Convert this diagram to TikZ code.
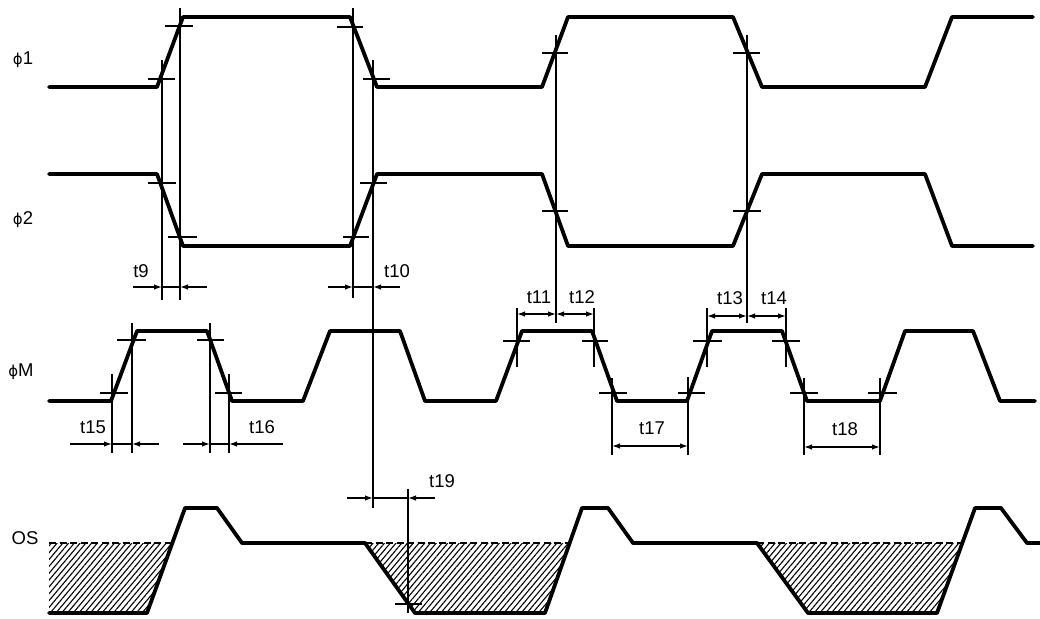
\documentclass[tikz,border=0pt]{standalone}
\usepackage{fontspec}
\setmainfont{Liberation Sans}
\newfontfamily\phifont{DejaVu Sans}
\usetikzlibrary{arrows.meta,patterns.meta}
\begin{document}
\begin{tikzpicture}[x=1pt,y=-1pt,
  wave/.style={line width=3.8pt,line join=round,line cap=round},
  thinl/.style={line width=1.5pt},
  dimin/.style={line width=1.4pt,-{Latex[length=8pt,width=5.5pt]}},
  dimboth/.style={line width=1.4pt,{Latex[length=8pt,width=5.5pt]}-{Latex[length=8pt,width=5.5pt]}},
  lbl/.style={font=\fontsize{18.5}{20}\selectfont,inner sep=0pt},
  hatch/.style={pattern={Lines[angle=50,distance=4.4pt,line width=1.1pt]}},
  refline/.style={line width=2pt,dash pattern=on 7pt off 3.5pt}]
\useasboundingbox (0,0) rectangle (1040,618);

% signal labels
\node[lbl] (lphi1) at (23,60) {{\phifont\fontsize{15}{16}\selectfont ϕ}1};
\node[lbl] (lphi2) at (23,220) {{\phifont\fontsize{15}{16}\selectfont ϕ}2};
\node[lbl] (lphiM) at (21,372) {{\phifont\fontsize{15}{16}\selectfont ϕ}M};
\node[lbl] (los) at (25,538) {OS};

% hatched areas of OS
\fill[hatch] (49,543) -- (172,543) -- (147,613) -- (49,613) -- cycle;
\fill[hatch] (365,543) -- (415,613) -- (545,613) -- (570,543) -- cycle;
\fill[hatch] (757,543) -- (808,613) -- (937,613) -- (962,543) -- cycle;
\draw[refline] (49,543) -- (172,543);
\draw[refline] (365,543) -- (570,543);
\draw[refline] (757,543) -- (962,543);

% waveforms
\draw[wave] (49,87) -- (157,87) -- (183,17) -- (350,17) -- (377,87) -- (542,87) -- (568,17) -- (733,17) -- (762,87) -- (925,87) -- (952,17) -- (1033,17);
\draw[wave] (49,174) -- (157,174) -- (183,246) -- (350,246) -- (377,174) -- (542,174) -- (568,246) -- (733,246) -- (762,174) -- (925,174) -- (952,246) -- (1033,246);
\draw[wave] (49,401) -- (111,401) -- (137,331) -- (207,331) -- (232,401) -- (303,401) -- (330,331) -- (400,331) -- (425,401) -- (496,401) -- (522,331) -- (592,331) -- (617,401) -- (687,401) -- (712,331) -- (782,331) -- (807,401) -- (880,401) -- (905,331) -- (973,331) -- (1000,401) -- (1035,401);
\draw[wave] (49,613) -- (147,613) -- (185,508) -- (217,508) -- (242,543) -- (365,543) -- (415,613) -- (545,613) -- (582,508) -- (608,508) -- (633,543) -- (757,543) -- (808,613) -- (937,613) -- (975,508) -- (1001,508) -- (1027,543) -- (1040,543);

% level ticks
\foreach \y/\a/\b in {79/148/175, 26/165/193, 27/337/363, 79/363/390, 53/542/568, 53/733/760,
  183/148/176, 237/168/197, 237/343/369, 183/360/387, 211/542/568, 211/733/761,
  393/100/128, 340/117/146, 340/197/224, 393/215/242, 341/503/530, 341/582/608,
  393/599/627, 393/678/705, 341/693/722, 341/772/800, 393/790/818, 393/868/897,
  604/395/422}
  \draw[thinl] (\a,\y) -- (\b,\y);

% reference verticals
\foreach \x/\a/\b in {162/60/300, 180/8/300, 353/8/298, 373/60/508, 408/489/613,
  556/35/323, 747/35/323,
  112/374/453, 132/323/453, 210/323/453, 229/374/453,
  517/308/367, 594/308/367, 612/378/455, 688/377/455, 707/308/367, 786/308/367,
  804/378/455, 880/378/455}
  \draw[thinl] (\x,\a) -- (\x,\b);

% outside dimensions
\foreach \y/\o/\a/\b/\p in {287/133/162/180/207, 287/328/353/373/400, 444/70/112/132/159,
  444/183/210/229/283, 498/347/373/408/435}
{
  \draw[dimin] (\o,\y) -- (\a,\y);
  \draw[dimin] (\p,\y) -- (\b,\y);
  \draw[line width=1.4pt] (\a,\y) -- (\b,\y);
}

% inside dimensions
\draw[dimboth] (517,314) -- (556,314);
\draw[dimboth] (556,314) -- (594,314);
\draw[dimboth] (707,316) -- (747,316);
\draw[dimboth] (747,316) -- (786,316);
\draw[dimboth] (612,446) -- (688,446);
\draw[dimboth] (804,447) -- (880,447);

% time labels
\node[lbl] (t9) at (141,271) {t9};
\node[lbl] (t10) at (397,271) {t10};
\node[lbl] (t11) at (539,297) {t11};
\node[lbl] (t12) at (582,297) {t12};
\node[lbl] (t13) at (730,298) {t13};
\node[lbl] (t14) at (774,298) {t14};
\node[lbl] (t15) at (93,427) {t15};
\node[lbl] (t16) at (262,427) {t16};
\node[lbl] (t17) at (652,428) {t17};
\node[lbl] (t18) at (845,429) {t18};
\node[lbl] (t19) at (442,481) {t19};
\end{tikzpicture}
\end{document}
